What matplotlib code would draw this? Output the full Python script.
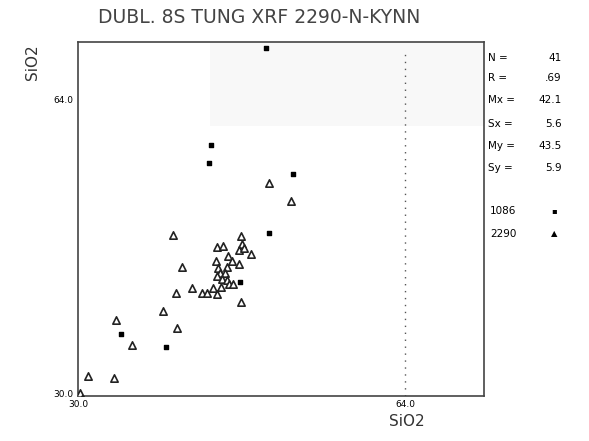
import numpy as np
import matplotlib.pyplot as plt
from matplotlib.patches import Rectangle

# SiO2 values
x_1086 = [43.8, 43.6, 52.3, 49.9, 46.8, 34.5, 39.1, 49.5]
y_1086 = [58.9, 56.8, 55.5, 48.8, 43.1, 37.1, 35.6, 70.0]

x_2290 = [49.9, 52.1, 39.9, 46.9, 47.1, 44.5, 45.1, 46.7, 47.3, 48.0,
          45.6, 46.0, 44.3, 46.7, 40.8, 44.6, 45.5, 44.8, 45.3, 44.5,
          45.0, 45.5, 45.7, 46.1, 44.9, 44.0, 41.8, 42.9, 43.4, 44.4,
          40.2, 46.9, 38.8, 34.0, 40.3, 35.6, 31.0, 33.7, 30.2, 30.4]
y_2290 = [54.5, 52.4, 48.5, 48.4, 47.5, 47.1, 47.3, 46.8, 47.0, 46.3,
          46.1, 45.5, 45.5, 45.2, 44.8, 44.7, 44.8, 44.1, 44.1, 43.8,
          43.5, 43.3, 42.9, 42.9, 42.5, 42.4, 42.4, 41.9, 41.9, 41.7,
          41.8, 40.8, 39.8, 38.7, 37.8, 35.9, 32.3, 32.1, 30.3, 29.6]

stat_names = ["N =", "R =", "Mx =", "Sx =", "My =", "Sy ="]
stat_vals = ["41", ".69", "42.1", "5.6", "43.5", "5.9"]

fig = plt.figure(figsize=(5.89, 4.41), dpi=100)
ax = fig.add_axes([0.1324, 0.102, 0.6893, 0.8027])
ax.set_xlim(30, 72.2)
ax.set_ylim(30, 70.7)

# faint grey smudge from the scan at the top
ax.add_patch(Rectangle((43.7, 61.1), 28.5, 9.6, color="#f8f8f8", zorder=0, lw=0))
ax.axvline(64, color="#555555", lw=1.0, ls=(0, (1, 4)), ymax=0.98)

ax.scatter(x_2290, y_2290, marker="^", s=28, facecolors="white",
           edgecolors="#222222", linewidths=1.2, zorder=3)
ax.scatter(x_1086, y_1086, marker="s", s=6, color="black", zorder=4)

for s in ax.spines.values():
    s.set_color("#444444")
    s.set_linewidth(1.2)
ax.set_xticks([])
ax.set_yticks([])

fig.text(0.44, 0.961, "DUBL. 8S TUNG XRF 2290-N-KYNN", ha="center", va="center",
         fontsize=13.5, color="#444444")
fig.text(0.055, 0.86, "SiO2", rotation=90, ha="center", va="center",
         fontsize=11, color="#333333")
fig.text(0.69, 0.045, "SiO2", ha="center", va="center", fontsize=11, color="#333333")
fig.text(0.125, 0.773, "64.0", ha="right", va="center", fontsize=6.5)
fig.text(0.125, 0.105, "30.0", ha="right", va="center", fontsize=6.5)
fig.text(0.133, 0.083, "30.0", ha="center", va="center", fontsize=6.5)
fig.text(0.688, 0.083, "64.0", ha="center", va="center", fontsize=6.5)

ys = [58, 78, 100, 124, 146, 168]
for name, val, yp in zip(stat_names, stat_vals, ys):
    fig.text(488 / 589, 1 - yp / 441, name, ha="left", va="center", fontsize=7.5)
    fig.text(562 / 589, 1 - yp / 441, val, ha="right", va="center", fontsize=7.5)

fig.text(490 / 589, 1 - 211 / 441, "1086", ha="left", va="center", fontsize=7.5)
fig.text(490 / 589, 1 - 234 / 441, "2290", ha="left", va="center", fontsize=7.5)
fig.text(554 / 589, 1 - 211 / 441, "\u25aa", ha="center", va="center", fontsize=6)
fig.text(554 / 589, 1 - 234 / 441, "\u25b2", ha="center", va="center", fontsize=6)

fig.savefig("out.png", dpi=100)
